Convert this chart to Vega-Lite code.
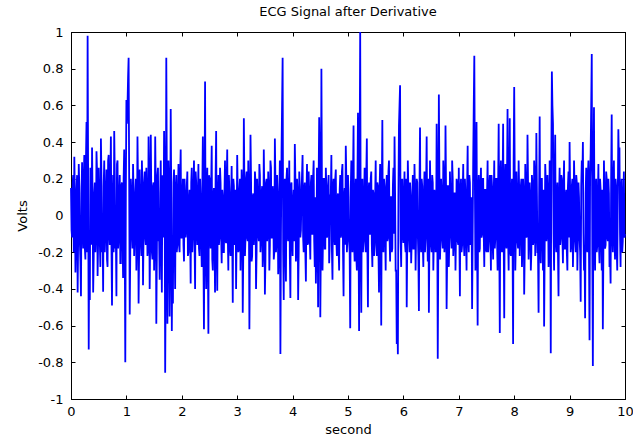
{
"$schema": "https://vega.github.io/schema/vega-lite/v6.json",
"width": 554, "height": 367,
"autosize": {"type": "none"},
"padding": {"left": 71, "top": 32, "right": 8, "bottom": 37},
"background": "white",
"title": {"text": "ECG Signal after Derivative", "font": "DejaVu Sans", "fontSize": 13, "fontWeight": "normal", "color": "black", "offset": 7},
"config": {
  "view": {"stroke": "black", "strokeWidth": 1},
  "axis": {"domainColor": "black", "tickColor": "black", "labelColor": "black", "titleColor": "black", "labelFont": "DejaVu Sans", "titleFont": "DejaVu Sans", "labelFontSize": 13, "titleFontSize": 13, "titleFontWeight": "normal", "grid": false, "tickSize": -4, "tickWidth": 1}
},
"data": {"values": [
{"t":0.00,"v":0.15},{"t":0.02,"v":-0.12},{"t":0.04,"v":0.22},{"t":0.06,"v":0.32},{"t":0.08,"v":-0.31},{"t":0.10,"v":0.14},{"t":0.12,"v":-0.42},{"t":0.14,"v":0.28},{"t":0.16,"v":-0.15},{"t":0.18,"v":-0.44},
{"t":0.20,"v":0.29},{"t":0.22,"v":-0.18},{"t":0.24,"v":0.33},{"t":0.26,"v":-0.24},{"t":0.28,"v":0.51},{"t":0.30,"v":0.98},{"t":0.32,"v":-0.73},{"t":0.34,"v":-0.46},{"t":0.36,"v":0.24},{"t":0.38,"v":0.37},
{"t":0.40,"v":-0.42},{"t":0.42,"v":0.12},{"t":0.44,"v":-0.2},{"t":0.46,"v":0.35},{"t":0.48,"v":-0.33},{"t":0.50,"v":0.26},{"t":0.52,"v":-0.14},{"t":0.54,"v":0.42},{"t":0.56,"v":-0.2},{"t":0.58,"v":-0.415},
{"t":0.60,"v":0.3},{"t":0.62,"v":-0.1},{"t":0.64,"v":0.25},{"t":0.66,"v":-0.28},{"t":0.68,"v":0.33},{"t":0.70,"v":-0.16},{"t":0.72,"v":0.43},{"t":0.74,"v":-0.49},{"t":0.76,"v":0.22},{"t":0.78,"v":0.46},
{"t":0.80,"v":-0.18},{"t":0.82,"v":-0.44},{"t":0.84,"v":0.3},{"t":0.86,"v":-0.12},{"t":0.88,"v":0.22},{"t":0.90,"v":-0.26},{"t":0.92,"v":0.18},{"t":0.94,"v":-0.34},{"t":0.96,"v":0.36},{"t":0.98,"v":-0.8},
{"t":1.00,"v":0.63},{"t":1.02,"v":0.6},{"t":1.04,"v":0.86},{"t":1.06,"v":-0.54},{"t":1.08,"v":0.2},{"t":1.10,"v":-0.1},{"t":1.12,"v":0.28},{"t":1.14,"v":-0.22},{"t":1.16,"v":0.12},{"t":1.18,"v":-0.3},
{"t":1.20,"v":0.43},{"t":1.22,"v":-0.48},{"t":1.24,"v":0.25},{"t":1.26,"v":-0.15},{"t":1.28,"v":0.3},{"t":1.30,"v":-0.38},{"t":1.32,"v":0.18},{"t":1.34,"v":-0.12},{"t":1.36,"v":0.26},{"t":1.38,"v":-0.22},
{"t":1.40,"v":0.43},{"t":1.42,"v":-0.4},{"t":1.44,"v":0.44},{"t":1.46,"v":-0.2},{"t":1.48,"v":0.16},{"t":1.50,"v":-0.3},{"t":1.52,"v":0.43},{"t":1.54,"v":-0.59},{"t":1.56,"v":0.22},{"t":1.58,"v":-0.14},
{"t":1.60,"v":-0.35},{"t":1.62,"v":0.3},{"t":1.64,"v":-0.42},{"t":1.66,"v":0.2},{"t":1.68,"v":0.46},{"t":1.70,"v":-0.857},{"t":1.72,"v":0.86},{"t":1.74,"v":-0.59},{"t":1.76,"v":0.3},{"t":1.78,"v":-0.55},
{"t":1.80,"v":0.58},{"t":1.82,"v":-0.63},{"t":1.84,"v":-0.48},{"t":1.86,"v":0.25},{"t":1.88,"v":-0.4},{"t":1.90,"v":0.22},{"t":1.92,"v":-0.15},{"t":1.94,"v":0.28},{"t":1.96,"v":-0.2},{"t":1.98,"v":0.36},
{"t":2.00,"v":-0.12},{"t":2.02,"v":0.2},{"t":2.04,"v":-0.25},{"t":2.06,"v":0.1},{"t":2.08,"v":-0.08},{"t":2.10,"v":0.24},{"t":2.12,"v":-0.2},{"t":2.14,"v":0.14},{"t":2.16,"v":-0.37},{"t":2.18,"v":0.26},
{"t":2.20,"v":-0.1},{"t":2.22,"v":0.3},{"t":2.24,"v":-0.4},{"t":2.26,"v":0.18},{"t":2.28,"v":-0.16},{"t":2.30,"v":0.28},{"t":2.32,"v":-0.22},{"t":2.34,"v":0.08},{"t":2.36,"v":-0.28},{"t":2.38,"v":0.43},
{"t":2.40,"v":-0.62},{"t":2.42,"v":0.73},{"t":2.44,"v":-0.4},{"t":2.46,"v":0.26},{"t":2.48,"v":-0.645},{"t":2.50,"v":0.2},{"t":2.52,"v":-0.18},{"t":2.54,"v":0.38},{"t":2.56,"v":-0.3},{"t":2.58,"v":0.15},
{"t":2.60,"v":-0.42},{"t":2.62,"v":0.46},{"t":2.64,"v":-0.41},{"t":2.66,"v":0.22},{"t":2.68,"v":-0.12},{"t":2.70,"v":0.18},{"t":2.72,"v":-0.26},{"t":2.74,"v":0.1},{"t":2.76,"v":-0.2},{"t":2.78,"v":0.3},
{"t":2.80,"v":-0.15},{"t":2.82,"v":0.36},{"t":2.84,"v":-0.3},{"t":2.86,"v":0.12},{"t":2.88,"v":-0.22},{"t":2.90,"v":0.27},{"t":2.92,"v":-0.475},{"t":2.94,"v":0.16},{"t":2.96,"v":-0.1},{"t":2.98,"v":-0.4},
{"t":3.00,"v":0.33},{"t":3.02,"v":-0.2},{"t":3.04,"v":0.14},{"t":3.06,"v":-0.3},{"t":3.08,"v":0.25},{"t":3.10,"v":-0.53},{"t":3.12,"v":0.53},{"t":3.14,"v":-0.22},{"t":3.16,"v":0.2},{"t":3.18,"v":-0.12},
{"t":3.20,"v":0.3},{"t":3.22,"v":-0.62},{"t":3.24,"v":0.44},{"t":3.26,"v":-0.25},{"t":3.28,"v":0.1},{"t":3.30,"v":-0.16},{"t":3.32,"v":0.24},{"t":3.34,"v":-0.4},{"t":3.36,"v":0.2},{"t":3.38,"v":-0.1},
{"t":3.40,"v":0.28},{"t":3.42,"v":-0.2},{"t":3.44,"v":0.12},{"t":3.46,"v":-0.28},{"t":3.48,"v":0.36},{"t":3.50,"v":-0.43},{"t":3.52,"v":0.18},{"t":3.54,"v":-0.14},{"t":3.56,"v":0.24},{"t":3.58,"v":-0.3},
{"t":3.60,"v":0.3},{"t":3.62,"v":-0.12},{"t":3.64,"v":0.16},{"t":3.66,"v":-0.24},{"t":3.68,"v":0.42},{"t":3.70,"v":-0.2},{"t":3.72,"v":0.22},{"t":3.74,"v":-0.32},{"t":3.76,"v":0.1},{"t":3.78,"v":-0.755},
{"t":3.80,"v":0.34},{"t":3.82,"v":0.86},{"t":3.84,"v":-0.46},{"t":3.86,"v":0.2},{"t":3.88,"v":-0.36},{"t":3.90,"v":0.26},{"t":3.92,"v":-0.14},{"t":3.94,"v":0.3},{"t":3.96,"v":-0.45},{"t":3.98,"v":0.18},
{"t":4.00,"v":-0.22},{"t":4.02,"v":0.14},{"t":4.04,"v":0.39},{"t":4.06,"v":-0.25},{"t":4.08,"v":0.2},{"t":4.10,"v":-0.46},{"t":4.12,"v":0.24},{"t":4.14,"v":-0.12},{"t":4.16,"v":0.1},{"t":4.18,"v":0.33},
{"t":4.20,"v":-0.2},{"t":4.22,"v":0.18},{"t":4.24,"v":-0.36},{"t":4.26,"v":0.28},{"t":4.28,"v":-0.15},{"t":4.30,"v":0.12},{"t":4.32,"v":-0.24},{"t":4.34,"v":0.22},{"t":4.36,"v":-0.1},{"t":4.38,"v":0.3},
{"t":4.40,"v":-0.28},{"t":4.42,"v":-0.37},{"t":4.44,"v":0.26},{"t":4.46,"v":-0.5},{"t":4.48,"v":0.535},{"t":4.50,"v":-0.555},{"t":4.52,"v":0.8},{"t":4.54,"v":-0.3},{"t":4.56,"v":0.2},{"t":4.58,"v":-0.18},
{"t":4.60,"v":0.26},{"t":4.62,"v":-0.12},{"t":4.64,"v":0.16},{"t":4.66,"v":-0.26},{"t":4.68,"v":0.1},{"t":4.70,"v":0.33},{"t":4.72,"v":-0.35},{"t":4.74,"v":0.2},{"t":4.76,"v":-0.16},{"t":4.78,"v":0.25},
{"t":4.80,"v":-0.22},{"t":4.82,"v":0.12},{"t":4.84,"v":-0.3},{"t":4.86,"v":0.22},{"t":4.88,"v":-0.1},{"t":4.90,"v":0.28},{"t":4.92,"v":-0.44},{"t":4.94,"v":0.15},{"t":4.96,"v":0.38},{"t":4.98,"v":-0.2},
{"t":5.00,"v":0.22},{"t":5.02,"v":-0.14},{"t":5.04,"v":-0.615},{"t":5.06,"v":0.3},{"t":5.08,"v":-0.2},{"t":5.10,"v":0.49},{"t":5.12,"v":-0.25},{"t":5.14,"v":0.2},{"t":5.16,"v":-0.3},{"t":5.18,"v":0.56},
{"t":5.20,"v":-0.63},{"t":5.22,"v":1.0},{"t":5.24,"v":-0.53},{"t":5.26,"v":0.2},{"t":5.28,"v":-0.12},{"t":5.30,"v":0.26},{"t":5.32,"v":-0.2},{"t":5.34,"v":0.42},{"t":5.36,"v":-0.5},{"t":5.38,"v":0.18},
{"t":5.40,"v":-0.1},{"t":5.42,"v":0.24},{"t":5.44,"v":-0.28},{"t":5.46,"v":0.12},{"t":5.48,"v":-0.16},{"t":5.50,"v":0.3},{"t":5.52,"v":-0.22},{"t":5.54,"v":0.16},{"t":5.56,"v":-0.42},{"t":5.58,"v":0.28},
{"t":5.60,"v":-0.6},{"t":5.62,"v":0.52},{"t":5.64,"v":-0.2},{"t":5.66,"v":0.14},{"t":5.68,"v":-0.3},{"t":5.70,"v":0.22},{"t":5.72,"v":-0.12},{"t":5.74,"v":0.3},{"t":5.76,"v":-0.25},{"t":5.78,"v":0.1},
{"t":5.80,"v":-0.18},{"t":5.82,"v":0.26},{"t":5.84,"v":0.43},{"t":5.86,"v":-0.3},{"t":5.88,"v":-0.7},{"t":5.90,"v":-0.756},{"t":5.92,"v":0.49},{"t":5.94,"v":0.71},{"t":5.96,"v":-0.28},{"t":5.98,"v":0.2},
{"t":6.00,"v":-0.15},{"t":6.02,"v":0.24},{"t":6.04,"v":-0.2},{"t":6.06,"v":-0.5},{"t":6.08,"v":0.3},{"t":6.10,"v":-0.12},{"t":6.12,"v":0.18},{"t":6.14,"v":-0.26},{"t":6.16,"v":0.1},{"t":6.18,"v":-0.18},
{"t":6.20,"v":0.28},{"t":6.22,"v":-0.3},{"t":6.24,"v":0.2},{"t":6.26,"v":-0.1},{"t":6.28,"v":-0.52},{"t":6.30,"v":0.48},{"t":6.32,"v":-0.2},{"t":6.34,"v":0.16},{"t":6.36,"v":-0.28},{"t":6.38,"v":0.24},
{"t":6.40,"v":-0.12},{"t":6.42,"v":0.43},{"t":6.44,"v":-0.25},{"t":6.46,"v":-0.53},{"t":6.48,"v":0.3},{"t":6.50,"v":-0.16},{"t":6.52,"v":0.22},{"t":6.54,"v":-0.3},{"t":6.56,"v":0.14},{"t":6.58,"v":-0.2},
{"t":6.60,"v":0.5},{"t":6.62,"v":-0.78},{"t":6.64,"v":0.66},{"t":6.66,"v":-0.24},{"t":6.68,"v":0.2},{"t":6.70,"v":-0.12},{"t":6.72,"v":0.3},{"t":6.74,"v":-0.2},{"t":6.76,"v":0.49},{"t":6.78,"v":-0.51},
{"t":6.80,"v":0.16},{"t":6.82,"v":-0.28},{"t":6.84,"v":0.24},{"t":6.86,"v":-0.1},{"t":6.88,"v":0.3},{"t":6.90,"v":-0.22},{"t":6.92,"v":0.12},{"t":6.94,"v":-0.3},{"t":6.96,"v":0.2},{"t":6.98,"v":-0.14},
{"t":7.00,"v":0.26},{"t":7.02,"v":-0.44},{"t":7.04,"v":0.2},{"t":7.06,"v":-0.16},{"t":7.08,"v":0.28},{"t":7.10,"v":-0.22},{"t":7.12,"v":0.12},{"t":7.14,"v":-0.3},{"t":7.16,"v":0.38},{"t":7.18,"v":-0.2},
{"t":7.20,"v":0.18},{"t":7.22,"v":-0.12},{"t":7.24,"v":-0.51},{"t":7.26,"v":0.3},{"t":7.28,"v":0.87},{"t":7.30,"v":-0.3},{"t":7.32,"v":0.51},{"t":7.34,"v":-0.6},{"t":7.36,"v":0.22},{"t":7.38,"v":-0.18},
{"t":7.40,"v":0.26},{"t":7.42,"v":-0.1},{"t":7.44,"v":0.2},{"t":7.46,"v":-0.28},{"t":7.48,"v":0.14},{"t":7.50,"v":-0.2},{"t":7.52,"v":0.3},{"t":7.54,"v":-0.14},{"t":7.56,"v":0.22},{"t":7.58,"v":-0.3},
{"t":7.60,"v":0.16},{"t":7.62,"v":-0.24},{"t":7.64,"v":0.3},{"t":7.66,"v":-0.12},{"t":7.68,"v":0.2},{"t":7.70,"v":-0.3},{"t":7.72,"v":0.5},{"t":7.74,"v":-0.64},{"t":7.76,"v":0.3},{"t":7.78,"v":-0.2},
{"t":7.80,"v":0.5},{"t":7.82,"v":-0.56},{"t":7.84,"v":0.28},{"t":7.86,"v":-0.18},{"t":7.88,"v":0.58},{"t":7.90,"v":-0.3},{"t":7.92,"v":0.53},{"t":7.94,"v":-0.22},{"t":7.96,"v":0.2},{"t":7.98,"v":-0.7},
{"t":8.00,"v":0.7},{"t":8.02,"v":-0.3},{"t":8.04,"v":0.24},{"t":8.06,"v":-0.14},{"t":8.08,"v":0.3},{"t":8.10,"v":-0.22},{"t":8.12,"v":0.16},{"t":8.14,"v":-0.28},{"t":8.16,"v":0.2},{"t":8.18,"v":-0.43},
{"t":8.20,"v":0.28},{"t":8.22,"v":-0.12},{"t":8.24,"v":0.44},{"t":8.26,"v":-0.24},{"t":8.28,"v":0.18},{"t":8.30,"v":-0.3},{"t":8.32,"v":0.22},{"t":8.34,"v":-0.16},{"t":8.36,"v":0.3},{"t":8.38,"v":-0.22},
{"t":8.40,"v":0.45},{"t":8.42,"v":-0.2},{"t":8.44,"v":-0.53},{"t":8.46,"v":0.54},{"t":8.48,"v":-0.26},{"t":8.50,"v":0.2},{"t":8.52,"v":-0.3},{"t":8.54,"v":-0.605},{"t":8.56,"v":0.28},{"t":8.58,"v":-0.14},
{"t":8.60,"v":0.22},{"t":8.62,"v":-0.28},{"t":8.64,"v":0.3},{"t":8.66,"v":-0.75},{"t":8.68,"v":0.785},{"t":8.70,"v":0.5},{"t":8.72,"v":-0.3},{"t":8.74,"v":0.44},{"t":8.76,"v":-0.2},{"t":8.78,"v":0.18},
{"t":8.80,"v":-0.44},{"t":8.82,"v":0.26},{"t":8.84,"v":-0.12},{"t":8.86,"v":0.2},{"t":8.88,"v":-0.26},{"t":8.90,"v":0.3},{"t":8.92,"v":-0.18},{"t":8.94,"v":0.14},{"t":8.96,"v":-0.3},{"t":8.98,"v":0.24},
{"t":9.00,"v":0.4},{"t":9.02,"v":-0.2},{"t":9.04,"v":0.16},{"t":9.06,"v":-0.28},{"t":9.08,"v":0.3},{"t":9.10,"v":-0.14},{"t":9.12,"v":0.22},{"t":9.14,"v":-0.3},{"t":9.16,"v":0.18},{"t":9.18,"v":-0.12},
{"t":9.20,"v":-0.47},{"t":9.22,"v":0.3},{"t":9.24,"v":0.4},{"t":9.26,"v":-0.3},{"t":9.28,"v":-0.56},{"t":9.30,"v":0.26},{"t":9.32,"v":-0.2},{"t":9.34,"v":0.3},{"t":9.36,"v":-0.68},{"t":9.38,"v":0.34},
{"t":9.40,"v":0.88},{"t":9.42,"v":-0.82},{"t":9.44,"v":0.59},{"t":9.46,"v":-0.3},{"t":9.48,"v":0.2},{"t":9.50,"v":-0.16},{"t":9.52,"v":0.28},{"t":9.54,"v":-0.26},{"t":9.56,"v":0.14},{"t":9.58,"v":-0.3},
{"t":9.60,"v":-0.62},{"t":9.62,"v":0.3},{"t":9.64,"v":-0.18},{"t":9.66,"v":0.24},{"t":9.68,"v":-0.12},{"t":9.70,"v":0.2},{"t":9.72,"v":-0.28},{"t":9.74,"v":-0.37},{"t":9.76,"v":0.55},{"t":9.78,"v":-0.2},
{"t":9.80,"v":0.3},{"t":9.82,"v":-0.24},{"t":9.84,"v":0.16},{"t":9.86,"v":-0.3},{"t":9.88,"v":0.47},{"t":9.90,"v":0.37},{"t":9.92,"v":-0.28},{"t":9.94,"v":0.2},{"t":9.96,"v":-0.14},{"t":9.98,"v":0.24},
{"t":10.00,"v":-0.1},
{"t":0.01,"v":-0.08},{"t":0.03,"v":0.18},{"t":0.05,"v":-0.2},{"t":0.07,"v":0.1},{"t":0.09,"v":-0.15},{"t":0.11,"v":0.22},{"t":0.13,"v":-0.1},{"t":0.15,"v":0.16},{"t":0.17,"v":-0.25},{"t":0.19,"v":0.12},
{"t":0.21,"v":-0.06},{"t":0.23,"v":0.2},{"t":0.25,"v":-0.18},{"t":0.27,"v":0.3},{"t":0.29,"v":-0.2},{"t":0.31,"v":0.14},{"t":0.33,"v":-0.12},{"t":0.35,"v":0.26},{"t":0.37,"v":-0.16},{"t":0.39,"v":0.08},
{"t":0.41,"v":-0.22},{"t":0.43,"v":0.18},{"t":0.45,"v":-0.1},{"t":0.47,"v":0.24},{"t":0.49,"v":-0.14},{"t":0.51,"v":0.1},{"t":0.53,"v":-0.28},{"t":0.55,"v":0.2},{"t":0.57,"v":-0.08},{"t":0.59,"v":0.16},
{"t":0.61,"v":-0.2},{"t":0.63,"v":0.12},{"t":0.65,"v":-0.24},{"t":0.67,"v":0.3},{"t":0.69,"v":-0.1},{"t":0.71,"v":0.18},{"t":0.73,"v":-0.16},{"t":0.75,"v":0.06},{"t":0.77,"v":-0.2},{"t":0.79,"v":0.22},
{"t":0.81,"v":-0.12},{"t":0.83,"v":0.28},{"t":0.85,"v":-0.18},{"t":0.87,"v":0.1},{"t":0.89,"v":-0.26},{"t":0.91,"v":0.16},{"t":0.93,"v":-0.08},{"t":0.95,"v":0.2},{"t":0.97,"v":-0.14},{"t":0.99,"v":0.12},
{"t":1.01,"v":0.5},{"t":1.03,"v":0.75},{"t":1.05,"v":0.2},{"t":1.07,"v":-0.2},{"t":1.09,"v":0.12},{"t":1.11,"v":-0.18},{"t":1.13,"v":0.1},{"t":1.15,"v":-0.08},{"t":1.17,"v":0.2},{"t":1.19,"v":-0.12},
{"t":1.21,"v":0.16},{"t":1.23,"v":-0.2},{"t":1.25,"v":0.08},{"t":1.27,"v":-0.22},{"t":1.29,"v":0.14},{"t":1.31,"v":-0.1},{"t":1.33,"v":0.24},{"t":1.35,"v":-0.16},{"t":1.37,"v":0.1},{"t":1.39,"v":-0.18},
{"t":1.41,"v":0.2},{"t":1.43,"v":-0.12},{"t":1.45,"v":0.1},{"t":1.47,"v":-0.24},{"t":1.49,"v":0.18},{"t":1.51,"v":-0.08},{"t":1.53,"v":0.14},{"t":1.55,"v":-0.2},{"t":1.57,"v":0.26},{"t":1.59,"v":-0.1},
{"t":1.61,"v":0.12},{"t":1.63,"v":-0.16},{"t":1.65,"v":0.22},{"t":1.67,"v":-0.12},{"t":1.69,"v":0.2},{"t":1.71,"v":-0.3},{"t":1.73,"v":0.2},{"t":1.75,"v":-0.1},{"t":1.77,"v":0.16},{"t":1.79,"v":-0.2},
{"t":1.81,"v":0.1},{"t":1.83,"v":-0.14},{"t":1.85,"v":0.18},{"t":1.87,"v":-0.1},{"t":1.89,"v":0.14},{"t":1.91,"v":-0.2},{"t":1.93,"v":0.1},{"t":1.95,"v":-0.16},{"t":1.97,"v":0.2},{"t":1.99,"v":-0.12},
{"t":2.01,"v":0.1},{"t":2.03,"v":-0.16},{"t":2.05,"v":0.2},{"t":2.07,"v":-0.12},{"t":2.09,"v":0.16},{"t":2.11,"v":-0.22},{"t":2.13,"v":0.08},{"t":2.15,"v":-0.1},{"t":2.17,"v":0.18},{"t":2.19,"v":-0.2},
{"t":2.21,"v":0.12},{"t":2.23,"v":-0.14},{"t":2.25,"v":0.24},{"t":2.27,"v":-0.08},{"t":2.29,"v":0.1},{"t":2.31,"v":-0.18},{"t":2.33,"v":0.2},{"t":2.35,"v":-0.12},{"t":2.37,"v":0.14},{"t":2.39,"v":-0.2},
{"t":2.41,"v":0.1},{"t":2.43,"v":-0.16},{"t":2.45,"v":0.12},{"t":2.47,"v":-0.2},{"t":2.49,"v":0.22},{"t":2.51,"v":-0.1},{"t":2.53,"v":0.16},{"t":2.55,"v":-0.24},{"t":2.57,"v":0.1},{"t":2.59,"v":-0.12},
{"t":2.61,"v":0.2},{"t":2.63,"v":-0.18},{"t":2.65,"v":0.08},{"t":2.67,"v":-0.16},{"t":2.69,"v":0.26},{"t":2.71,"v":-0.1},{"t":2.73,"v":0.14},{"t":2.75,"v":-0.2},{"t":2.77,"v":0.12},{"t":2.79,"v":-0.14},
{"t":2.81,"v":0.18},{"t":2.83,"v":-0.1},{"t":2.85,"v":0.22},{"t":2.87,"v":-0.18},{"t":2.89,"v":0.1},{"t":2.91,"v":-0.12},{"t":2.93,"v":0.2},{"t":2.95,"v":-0.16},{"t":2.97,"v":0.14},{"t":2.99,"v":-0.08},
{"t":3.01,"v":0.12},{"t":3.03,"v":-0.18},{"t":3.05,"v":0.2},{"t":3.07,"v":-0.1},{"t":3.09,"v":0.14},{"t":3.11,"v":-0.2},{"t":3.13,"v":0.16},{"t":3.15,"v":-0.12},{"t":3.17,"v":0.24},{"t":3.19,"v":-0.14},
{"t":3.21,"v":0.1},{"t":3.23,"v":-0.16},{"t":3.25,"v":0.2},{"t":3.27,"v":-0.22},{"t":3.29,"v":0.12},{"t":3.31,"v":-0.08},{"t":3.33,"v":0.18},{"t":3.35,"v":-0.2},{"t":3.37,"v":0.1},{"t":3.39,"v":-0.14},
{"t":3.41,"v":0.22},{"t":3.43,"v":-0.12},{"t":3.45,"v":0.16},{"t":3.47,"v":-0.18},{"t":3.49,"v":0.1},{"t":3.51,"v":-0.24},{"t":3.53,"v":0.2},{"t":3.55,"v":-0.1},{"t":3.57,"v":0.14},{"t":3.59,"v":-0.16},
{"t":3.61,"v":0.26},{"t":3.63,"v":-0.12},{"t":3.65,"v":0.1},{"t":3.67,"v":-0.2},{"t":3.69,"v":0.18},{"t":3.71,"v":-0.14},{"t":3.73,"v":0.12},{"t":3.75,"v":-0.2},{"t":3.77,"v":0.3},{"t":3.79,"v":-0.1},
{"t":3.81,"v":0.6},{"t":3.83,"v":-0.2},{"t":3.85,"v":0.14},{"t":3.87,"v":-0.16},{"t":3.89,"v":0.2},{"t":3.91,"v":-0.1},{"t":3.93,"v":0.12},{"t":3.95,"v":-0.22},{"t":3.97,"v":0.16},{"t":3.99,"v":-0.12},
{"t":4.01,"v":0.08},{"t":4.03,"v":-0.14},{"t":4.05,"v":0.2},{"t":4.07,"v":-0.18},{"t":4.09,"v":0.12},{"t":4.11,"v":-0.2},{"t":4.13,"v":0.16},{"t":4.15,"v":-0.08},{"t":4.17,"v":0.22},{"t":4.19,"v":-0.12},
{"t":4.21,"v":0.14},{"t":4.23,"v":-0.2},{"t":4.25,"v":0.1},{"t":4.27,"v":-0.16},{"t":4.29,"v":0.24},{"t":4.31,"v":-0.12},{"t":4.33,"v":0.18},{"t":4.35,"v":-0.1},{"t":4.37,"v":0.2},{"t":4.39,"v":-0.14},
{"t":4.41,"v":0.1},{"t":4.43,"v":-0.2},{"t":4.45,"v":0.18},{"t":4.47,"v":0.2},{"t":4.49,"v":0.3},{"t":4.51,"v":-0.16},{"t":4.53,"v":0.12},{"t":4.55,"v":-0.1},{"t":4.57,"v":0.2},{"t":4.59,"v":-0.18},
{"t":4.61,"v":0.14},{"t":4.63,"v":-0.1},{"t":4.65,"v":0.22},{"t":4.67,"v":-0.16},{"t":4.69,"v":0.12},{"t":4.71,"v":-0.2},{"t":4.73,"v":0.16},{"t":4.75,"v":-0.1},{"t":4.77,"v":0.2},{"t":4.79,"v":-0.14},
{"t":4.81,"v":0.1},{"t":4.83,"v":-0.18},{"t":4.85,"v":0.14},{"t":4.87,"v":-0.12},{"t":4.89,"v":0.24},{"t":4.91,"v":-0.2},{"t":4.93,"v":0.1},{"t":4.95,"v":-0.16},{"t":4.97,"v":0.2},{"t":4.99,"v":-0.12},
{"t":5.01,"v":0.1},{"t":5.03,"v":-0.2},{"t":5.05,"v":0.14},{"t":5.07,"v":-0.12},{"t":5.09,"v":0.2},{"t":5.11,"v":-0.16},{"t":5.13,"v":0.1},{"t":5.15,"v":-0.22},{"t":5.17,"v":0.18},{"t":5.19,"v":-0.1},
{"t":5.21,"v":0.3},{"t":5.23,"v":-0.12},{"t":5.25,"v":0.16},{"t":5.27,"v":-0.2},{"t":5.29,"v":0.1},{"t":5.31,"v":-0.14},{"t":5.33,"v":0.22},{"t":5.35,"v":-0.18},{"t":5.37,"v":0.12},{"t":5.39,"v":-0.1},
{"t":5.41,"v":0.2},{"t":5.43,"v":-0.16},{"t":5.45,"v":0.14},{"t":5.47,"v":-0.22},{"t":5.49,"v":0.1},{"t":5.51,"v":-0.12},{"t":5.53,"v":0.18},{"t":5.55,"v":-0.2},{"t":5.57,"v":0.14},{"t":5.59,"v":-0.1},
{"t":5.61,"v":0.12},{"t":5.63,"v":-0.18},{"t":5.65,"v":0.2},{"t":5.67,"v":-0.1},{"t":5.69,"v":0.16},{"t":5.71,"v":-0.14},{"t":5.73,"v":0.24},{"t":5.75,"v":-0.12},{"t":5.77,"v":0.1},{"t":5.79,"v":-0.2},
{"t":5.81,"v":0.16},{"t":5.83,"v":-0.1},{"t":5.85,"v":0.12},{"t":5.87,"v":-0.3},{"t":5.89,"v":-0.5},{"t":5.91,"v":0.1},{"t":5.93,"v":0.6},{"t":5.95,"v":-0.14},{"t":5.97,"v":0.18},{"t":5.99,"v":-0.1},
{"t":6.01,"v":0.1},{"t":6.03,"v":-0.16},{"t":6.05,"v":0.2},{"t":6.07,"v":-0.12},{"t":6.09,"v":0.14},{"t":6.11,"v":-0.2},{"t":6.13,"v":0.1},{"t":6.15,"v":-0.14},{"t":6.17,"v":0.22},{"t":6.19,"v":-0.18},
{"t":6.21,"v":0.12},{"t":6.23,"v":-0.1},{"t":6.25,"v":0.18},{"t":6.27,"v":-0.22},{"t":6.29,"v":0.14},{"t":6.31,"v":-0.12},{"t":6.33,"v":0.2},{"t":6.35,"v":-0.16},{"t":6.37,"v":0.1},{"t":6.39,"v":-0.2},
{"t":6.41,"v":0.16},{"t":6.43,"v":-0.1},{"t":6.45,"v":0.2},{"t":6.47,"v":-0.14},{"t":6.49,"v":0.12},{"t":6.51,"v":-0.2},{"t":6.53,"v":0.18},{"t":6.55,"v":-0.12},{"t":6.57,"v":0.1},{"t":6.59,"v":-0.16},
{"t":6.61,"v":0.1},{"t":6.63,"v":-0.2},{"t":6.65,"v":0.22},{"t":6.67,"v":-0.14},{"t":6.69,"v":0.12},{"t":6.71,"v":-0.18},{"t":6.73,"v":0.2},{"t":6.75,"v":-0.1},{"t":6.77,"v":0.14},{"t":6.79,"v":-0.22},
{"t":6.81,"v":0.16},{"t":6.83,"v":-0.12},{"t":6.85,"v":0.1},{"t":6.87,"v":-0.18},{"t":6.89,"v":0.2},{"t":6.91,"v":-0.14},{"t":6.93,"v":0.12},{"t":6.95,"v":-0.1},{"t":6.97,"v":0.18},{"t":6.99,"v":-0.16},
{"t":7.01,"v":-0.1},{"t":7.03,"v":0.14},{"t":7.05,"v":-0.2},{"t":7.07,"v":0.12},{"t":7.09,"v":-0.14},{"t":7.11,"v":0.2},{"t":7.13,"v":-0.1},{"t":7.15,"v":0.16},{"t":7.17,"v":-0.12},{"t":7.19,"v":0.22},
{"t":7.21,"v":-0.16},{"t":7.23,"v":0.1},{"t":7.25,"v":-0.12},{"t":7.27,"v":0.6},{"t":7.29,"v":0.2},{"t":7.31,"v":0.12},{"t":7.33,"v":-0.14},{"t":7.35,"v":0.1},{"t":7.37,"v":-0.2},{"t":7.39,"v":0.16},
{"t":7.41,"v":-0.12},{"t":7.43,"v":0.2},{"t":7.45,"v":-0.1},{"t":7.47,"v":0.14},{"t":7.49,"v":-0.18},{"t":7.51,"v":0.12},{"t":7.53,"v":-0.2},{"t":7.55,"v":0.16},{"t":7.57,"v":-0.1},{"t":7.59,"v":0.22},
{"t":7.61,"v":-0.14},{"t":7.63,"v":0.1},{"t":7.65,"v":-0.18},{"t":7.67,"v":0.2},{"t":7.69,"v":-0.12},{"t":7.71,"v":0.16},{"t":7.73,"v":-0.1},{"t":7.75,"v":0.2},{"t":7.77,"v":-0.16},{"t":7.79,"v":0.12},
{"t":7.81,"v":-0.1},{"t":7.83,"v":0.18},{"t":7.85,"v":-0.14},{"t":7.87,"v":0.2},{"t":7.89,"v":-0.12},{"t":7.91,"v":0.16},{"t":7.93,"v":-0.2},{"t":7.95,"v":0.1},{"t":7.97,"v":-0.14},{"t":7.99,"v":0.3},
{"t":8.01,"v":0.2},{"t":8.03,"v":-0.12},{"t":8.05,"v":0.1},{"t":8.07,"v":-0.18},{"t":8.09,"v":0.14},{"t":8.11,"v":-0.1},{"t":8.13,"v":0.2},{"t":8.15,"v":-0.16},{"t":8.17,"v":0.12},{"t":8.19,"v":-0.2},
{"t":8.21,"v":0.14},{"t":8.23,"v":-0.1},{"t":8.25,"v":0.18},{"t":8.27,"v":-0.12},{"t":8.29,"v":0.1},{"t":8.31,"v":-0.2},{"t":8.33,"v":0.16},{"t":8.35,"v":-0.14},{"t":8.37,"v":0.22},{"t":8.39,"v":-0.1},
{"t":8.41,"v":0.12},{"t":8.43,"v":-0.2},{"t":8.45,"v":0.1},{"t":8.47,"v":-0.16},{"t":8.49,"v":0.2},{"t":8.51,"v":-0.12},{"t":8.53,"v":0.14},{"t":8.55,"v":-0.2},{"t":8.57,"v":0.18},{"t":8.59,"v":-0.1},
{"t":8.61,"v":0.12},{"t":8.63,"v":-0.16},{"t":8.65,"v":0.2},{"t":8.67,"v":0.3},{"t":8.69,"v":0.6},{"t":8.71,"v":-0.1},{"t":8.73,"v":0.2},{"t":8.75,"v":-0.14},{"t":8.77,"v":0.12},{"t":8.79,"v":-0.2},
{"t":8.81,"v":0.1},{"t":8.83,"v":-0.16},{"t":8.85,"v":0.22},{"t":8.87,"v":-0.12},{"t":8.89,"v":0.14},{"t":8.91,"v":-0.18},{"t":8.93,"v":0.1},{"t":8.95,"v":-0.2},{"t":8.97,"v":0.16},{"t":8.99,"v":-0.12},
{"t":9.01,"v":0.12},{"t":9.03,"v":-0.16},{"t":9.05,"v":0.2},{"t":9.07,"v":-0.1},{"t":9.09,"v":0.14},{"t":9.11,"v":-0.2},{"t":9.13,"v":0.18},{"t":9.15,"v":-0.12},{"t":9.17,"v":0.1},{"t":9.19,"v":-0.2},
{"t":9.21,"v":0.16},{"t":9.23,"v":0.2},{"t":9.25,"v":-0.1},{"t":9.27,"v":-0.2},{"t":9.29,"v":0.12},{"t":9.31,"v":-0.14},{"t":9.33,"v":0.22},{"t":9.35,"v":-0.2},{"t":9.37,"v":0.2},{"t":9.39,"v":0.6},
{"t":9.41,"v":-0.2},{"t":9.43,"v":0.2},{"t":9.45,"v":-0.12},{"t":9.47,"v":0.14},{"t":9.49,"v":-0.2},{"t":9.51,"v":0.1},{"t":9.53,"v":-0.16},{"t":9.55,"v":0.2},{"t":9.57,"v":-0.12},{"t":9.59,"v":0.14},
{"t":9.61,"v":-0.2},{"t":9.63,"v":0.1},{"t":9.65,"v":-0.16},{"t":9.67,"v":0.2},{"t":9.69,"v":-0.14},{"t":9.71,"v":0.12},{"t":9.73,"v":-0.2},{"t":9.75,"v":0.2},{"t":9.77,"v":-0.1},{"t":9.79,"v":0.16},
{"t":9.81,"v":-0.12},{"t":9.83,"v":0.2},{"t":9.85,"v":-0.18},{"t":9.87,"v":0.1},{"t":9.89,"v":0.3},{"t":9.91,"v":-0.1},{"t":9.93,"v":0.14},{"t":9.95,"v":-0.2},{"t":9.97,"v":0.1},{"t":9.99,"v":-0.12}
]},
"layer": [
  {
    "mark": {"type": "line", "color": "#0000ff", "strokeWidth": 1.8},
    "encoding": {
      "x": {"field": "t", "type": "quantitative", "scale": {"domain": [0, 10], "nice": false},
            "axis": {"title": "second", "values": [0,1,2,3,4,5,6,7,8,9,10], "labelPadding": 10, "titlePadding": 5, "labelFlush": false}},
      "y": {"field": "v", "type": "quantitative", "scale": {"domain": [-1, 1], "nice": false},
            "axis": {"title": "Volts", "values": [-1,-0.8,-0.6,-0.4,-0.2,0,0.2,0.4,0.6,0.8,1], "labelExpr": "'' + datum.value", "labelPadding": 12, "titlePadding": 8, "labelFlush": false}}
    }
  },
  {
    "mark": {"type": "line", "strokeOpacity": 0},
    "encoding": {
      "x": {"field": "t", "type": "quantitative", "scale": {"domain": [0, 10], "nice": false},
            "axis": {"orient": "top", "labels": false, "title": null, "values": [0,1,2,3,4,5,6,7,8,9,10]}},
      "y": {"field": "v", "type": "quantitative", "scale": {"domain": [-1, 1], "nice": false},
            "axis": {"orient": "right", "labels": false, "title": null, "values": [-1,-0.8,-0.6,-0.4,-0.2,0,0.2,0.4,0.6,0.8,1]}}
    }
  }
],
"resolve": {"axis": {"x": "independent", "y": "independent"}}
}
